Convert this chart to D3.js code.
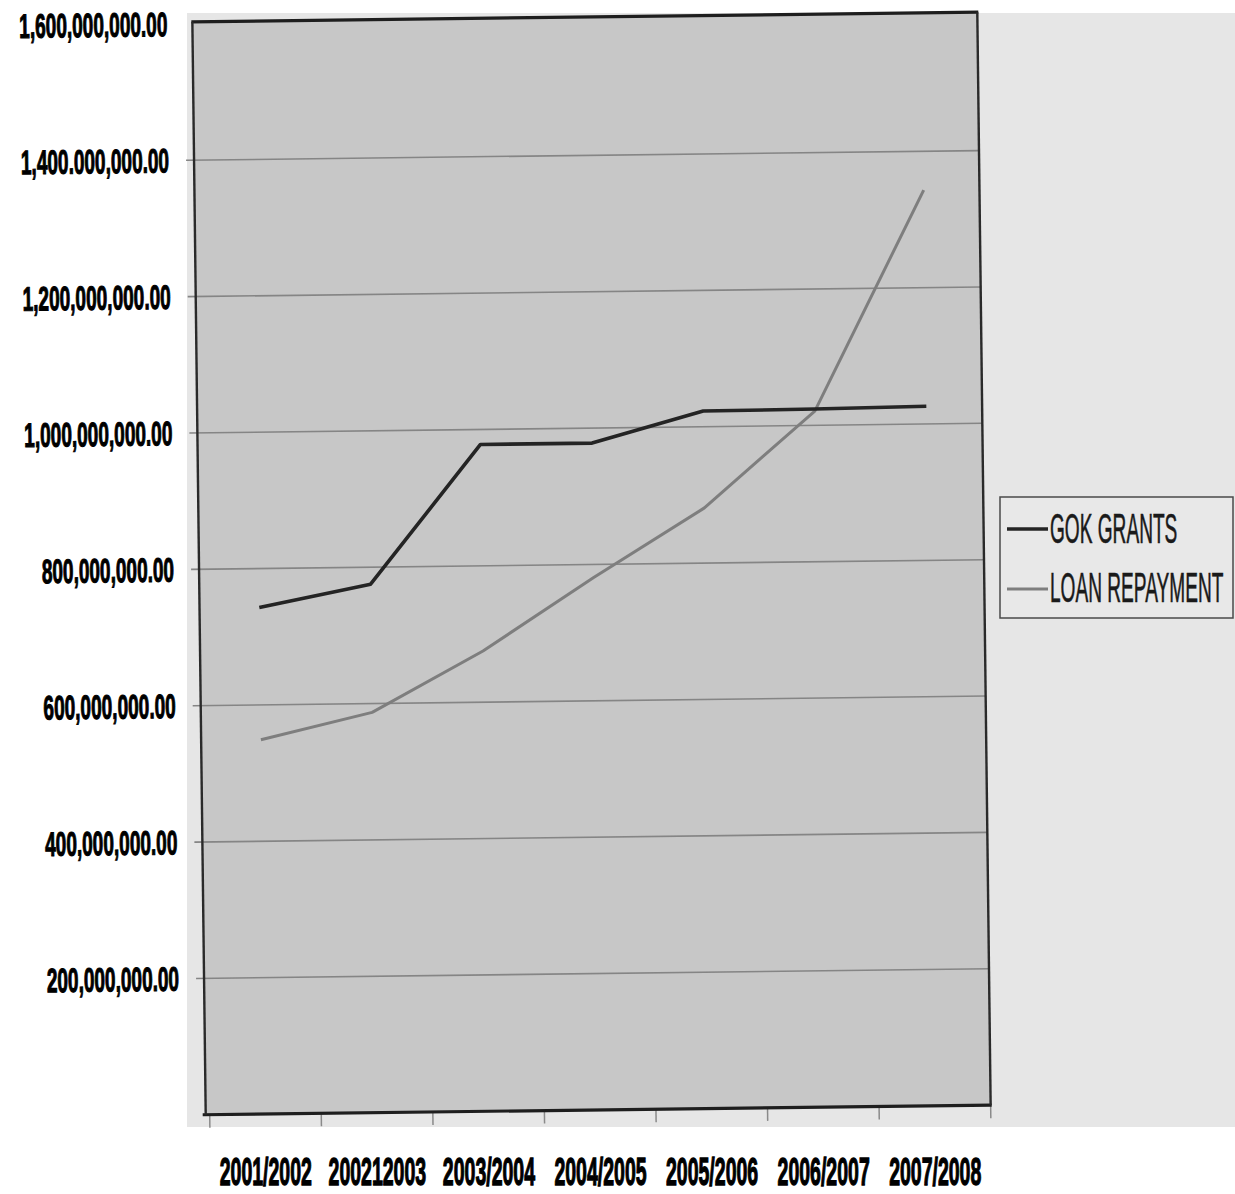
<!DOCTYPE html>
<html>
<head>
<meta charset="utf-8">
<script src="https://cdn.jsdelivr.net/npm/d3@7"></script>
<style>
  html, body { margin: 0; padding: 0; background: #ffffff; }
  svg { display: block; }
</style>
</head>
<body>
<div id="chart"></div>
<script>
// ---------------- DATA ----------------
const categories = ["2001/2002", "2002/2003", "2003/2004", "2004/2005", "2005/2006", "2006/2007", "2007/2008"];
const categoryLabels = ["2001/2002", "200212003", "2003/2004", "2004/2005", "2005/2006", "2006/2007", "2007/2008"];
const gokGrants = [743e6, 775e6, 978e6, 978e6, 1023e6, 1024e6, 1026e6];
const loanRepayment = [549e6, 587e6, 675e6, 781e6, 881e6, 1021e6, 1343e6];
const yTickValues = [200e6, 400e6, 600e6, 800e6, 1000e6, 1200e6, 1400e6, 1600e6];
const yTickLabels = ["200,000,000.00", "400,000,000.00", "600,000,000.00", "800,000,000.00",
                     "1,000,000,000.00", "1,200,000,000.00", "1,400.000,000.00", "1,600,000,000.00"];
const seriesNames = ["GOK GRANTS", "LOAN REPAYMENT"];

// ---------------- LAYOUT ----------------
const W = 1235, H = 1194;
const plot = { left: 199, right: 984, top: 17, bottom: 1110 };
const rot = { angle: -0.7, cx: 590, cy: 563 };

const svg = d3.select("#chart").append("svg")
  .attr("width", W).attr("height", H)
  .attr("viewBox", `0 0 ${W} ${H}`);

svg.append("rect").attr("width", W).attr("height", H).attr("fill", "#ffffff");
// scanned paper
svg.append("rect").attr("x", 187).attr("y", 13).attr("width", W - 187).attr("height", 1114)
  .attr("fill", "#e6e6e6");

const x = d3.scaleBand().domain(categories).range([plot.left + 4, plot.right]).padding(0);
const y = d3.scaleLinear().domain([0, 1.6e9]).range([plot.bottom, plot.top + 2]);

const g = svg.append("g").attr("transform", `rotate(${rot.angle},${rot.cx},${rot.cy})`);

// plot background
g.append("rect")
  .attr("x", plot.left).attr("y", plot.top)
  .attr("width", plot.right - plot.left).attr("height", plot.bottom - plot.top)
  .attr("fill", "#c7c7c7");

// gridlines (with small outside tick)
g.append("g").selectAll("line")
  .data(yTickValues.filter(v => v < 1.6e9))
  .join("line")
  .attr("x1", plot.left - 8).attr("x2", plot.right)
  .attr("y1", d => y(d)).attr("y2", d => y(d))
  .attr("stroke", "#858585").attr("stroke-width", 1.6);

// x ticks at band boundaries
const bounds = categories.map(c => x(c)).concat([x(categories[categories.length - 1]) + x.bandwidth()]);
g.append("g").selectAll("line")
  .data(bounds)
  .join("line")
  .attr("x1", d => d).attr("x2", d => d)
  .attr("y1", plot.bottom).attr("y2", plot.bottom + 13)
  .attr("stroke", "#8a8a8a").attr("stroke-width", 1.5);

// borders
g.append("line").attr("x1", plot.left - 1).attr("x2", plot.right + 1)
  .attr("y1", plot.top).attr("y2", plot.top).attr("stroke", "#1e1e1e").attr("stroke-width", 3.2);
g.append("line").attr("x1", plot.left - 3).attr("x2", plot.right + 1)
  .attr("y1", plot.bottom).attr("y2", plot.bottom).attr("stroke", "#1e1e1e").attr("stroke-width", 3.2);
g.append("line").attr("x1", plot.left).attr("x2", plot.left)
  .attr("y1", plot.top).attr("y2", plot.bottom).attr("stroke", "#2a2a2a").attr("stroke-width", 2.4);
g.append("line").attr("x1", plot.right).attr("x2", plot.right)
  .attr("y1", plot.top).attr("y2", plot.bottom).attr("stroke", "#2a2a2a").attr("stroke-width", 2.4);

// lines
const line = d3.line()
  .x((d, i) => x(categories[i]) + x.bandwidth() / 2)
  .y(d => y(d));

g.append("path").datum(loanRepayment)
  .attr("d", line).attr("fill", "none")
  .attr("stroke", "#7e7e7e").attr("stroke-width", 3)
  .attr("stroke-linejoin", "round");

g.append("path").datum(gokGrants)
  .attr("d", line).attr("fill", "none")
  .attr("stroke", "#242424").attr("stroke-width", 3.6)
  .attr("stroke-linejoin", "round");

// y labels (condensed by horizontal scale)
g.append("g").selectAll("text")
  .data(yTickValues)
  .join("text")
  .attr("transform", d => `translate(174,${y(d) + 12}) scale(0.56,1)`)
  .attr("text-anchor", "end")
  .attr("font-family", "'Liberation Sans', Arial, sans-serif")
  .attr("font-weight", "bold")
  .attr("font-size", 34)
  .attr("fill", "#000")
  .attr("stroke", "#000").attr("stroke-width", 1.1)
  .text((d, i) => yTickLabels[i]);

// x labels (unrotated, as in scan)
svg.append("g").selectAll("text")
  .data(categories)
  .join("text")
  .attr("transform", d => `translate(${x(d) + x.bandwidth() / 2 + 7},1185) scale(0.5,1)`)
  .attr("text-anchor", "middle")
  .attr("font-family", "'Liberation Sans', Arial, sans-serif")
  .attr("font-weight", "bold")
  .attr("font-size", 39)
  .attr("fill", "#000")
  .attr("stroke", "#000").attr("stroke-width", 1.3)
  .text((d, i) => categoryLabels[i]);

// legend
const lg = svg.append("g");
lg.append("rect").attr("x", 1000).attr("y", 497).attr("width", 233).attr("height", 121)
  .attr("fill", "#e8e8e8").attr("stroke", "#4a4a4a").attr("stroke-width", 1.5);
const legendItems = [
  { name: seriesNames[0], color: "#242424", width: 3.6, ly: 529, ty: 543 },
  { name: seriesNames[1], color: "#7e7e7e", width: 3, ly: 589, ty: 602 }
];
legendItems.forEach(it => {
  lg.append("line").attr("x1", 1007).attr("x2", 1048).attr("y1", it.ly).attr("y2", it.ly)
    .attr("stroke", it.color).attr("stroke-width", it.width);
  lg.append("text")
    .attr("transform", `translate(1050,${it.ty}) scale(0.455,1)`)
    .attr("font-family", "'Liberation Sans', Arial, sans-serif")
    .attr("font-size", 42).attr("fill", "#1a1a1a")
    .attr("stroke", "#1a1a1a").attr("stroke-width", 0.6)
    .text(it.name);
});
</script>
</body>
</html>
